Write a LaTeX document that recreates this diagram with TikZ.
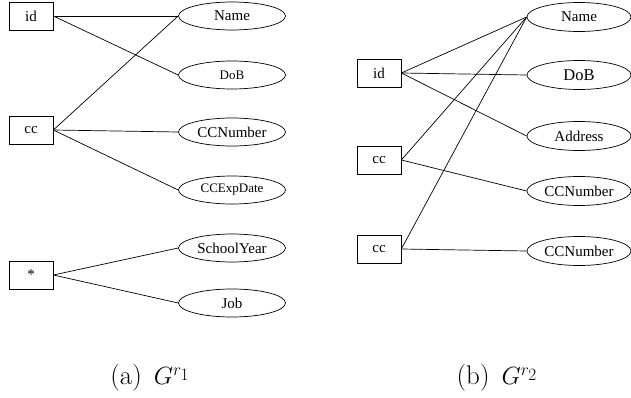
\documentclass[tikz,border=0pt]{standalone}
\usepackage{fontspec}
\newfontfamily\nodefont{Liberation Serif}
\usetikzlibrary{shapes.geometric}

\tikzset{
  keybox/.style={draw,rectangle,minimum width=44pt,minimum height=28pt,inner sep=0pt,font=\nodefont\fontsize{15}{15}\selectfont},
  attr/.style={draw,ellipse,minimum width=107pt,minimum height=28pt,inner sep=0pt,font=\nodefont\fontsize{15}{15}\selectfont},
  attrb/.style={attr,minimum width=104pt,minimum height=29pt},
  small/.style={font=\nodefont\fontsize{13}{13}\selectfont},
  subcap/.style={font=\fontsize{27}{30}\selectfont}
}

\begin{document}
\begin{tikzpicture}[x=1pt,y=-1pt,line width=0.7pt]
\useasboundingbox (0,0) rectangle (631,398);

% (a) left graph
\node[keybox] (aid) at (31,16) {id};
\node[keybox] (acc) at (31,130) {cc};
\node[keybox] (astar) at (31,275) {*};
\node[attr] (aname) at (232,16) {Name};
\node[attr,small] (adob) at (232,75) {DoB};
\node[attr] (acnum) at (232,132) {CCNumber};
\node[attr,small] (acexp) at (232,190) {CCExpDate};
\node[attr] (ayear) at (232,248) {SchoolYear};
\node[attr] (ajob) at (232,303) {Job};
\draw (aid.east) -- (aname.west);
\draw (aid.east) -- (adob.west);
\draw (acc.east) -- (aname.west);
\draw (acc.east) -- (acnum.west);
\draw (acc.east) -- (acexp.west);
\draw (astar.east) -- (ayear.west);
\draw (astar.east) -- (ajob.west);
\node[subcap] (capa) at (150,378) {(a)\hspace{12pt}$G^{r_{\scriptstyle 1}}$};

% (b) right graph
\node[keybox] (bid) at (379,73) {id};
\node[keybox] (bcca) at (379,160) {cc};
\node[keybox] (bccb) at (379,249) {cc};
\node[attrb] (bname) at (579,17) {Name};
\node[attrb,font=\nodefont\fontsize{16.5}{16.5}\selectfont] (bdob) at (579,75) {DoB};
\node[attrb] (baddr) at (579,136) {Address};
\node[attrb] (bcnuma) at (579,191) {CCNumber};
\node[attrb] (bcnumb) at (579,251) {CCNumber};
\draw (bid.east) -- (bname.west);
\draw (bid.east) -- (bdob.west);
\draw (bid.east) -- (baddr.west);
\draw (bcca.east) -- (bname.west);
\draw (bcca.east) -- (bcnuma.west);
\draw (bccb.east) -- (bname.west);
\draw (bccb.east) -- (bcnumb.west);
\node[subcap] (capb) at (497,378) {(b)\hspace{12pt}$G^{r_{\scriptstyle 2}}$};
\end{tikzpicture}
\end{document}
